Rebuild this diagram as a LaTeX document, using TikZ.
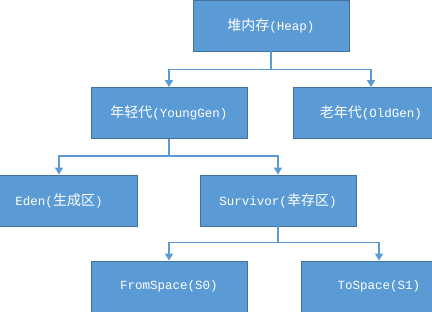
\documentclass[tikz,border=0pt]{standalone}
\usepackage{fontspec}
\setmainfont{Liberation Mono}
\newfontfamily\cjk{Noto Sans CJK SC}
\usetikzlibrary{arrows.meta}
\definecolor{boxblue}{HTML}{5B9BD5}
\definecolor{boxline}{HTML}{41719C}

\begin{document}
\begin{tikzpicture}[x=1pt, y=1pt,
    genbox/.style={draw=boxline, line width=0.8pt, fill=boxblue, text=white,
        minimum width=156pt, minimum height=51pt, inner sep=0pt,
        font=\fontsize{12.5}{14}\selectfont},
    conn/.style={draw=boxblue, line width=1.4pt,
        -{Triangle[width=8pt,length=7pt]}}]

    % Page
\clip (0,0) rectangle (432,312);

% Boxes
\node[genbox] (heap) at (271,286.5) {{\cjk\fontsize{14}{14}\selectfont 堆内存}(Heap)};
\node[genbox] (young) at (169,199) {{\cjk\fontsize{14}{14}\selectfont 年轻代}(YoungGen)};
\node[genbox] (old) at (371,199) {{\cjk\fontsize{14}{14}\selectfont 老年代}(OldGen)};
\node[genbox] (eden) at (59,111.5) {Eden({\cjk\fontsize{14}{14}\selectfont 生成区})};
\node[genbox] (surv) at (278,111.5) {Survivor({\cjk\fontsize{14}{14}\selectfont 幸存区})};
\node[genbox] (from) at (169,25.5) {FromSpace(S0)};
\node[genbox] (to) at (379,25.5) {ToSpace(S1)};

% Connectors
\draw[conn] (heap.south) -- ++(0,-18) -| (young.north);
\draw[conn] (heap.south) -- ++(0,-18) -| (old.north);
\draw[conn] (young.south) -- ++(0,-17) -| (eden.north);
\draw[conn] (young.south) -- ++(0,-17) -| (surv.north);
\draw[conn] (surv.south) -- ++(0,-16) -| (from.north);
\draw[conn] (surv.south) -- ++(0,-16) -| (to.north);

\end{tikzpicture}
\end{document}
